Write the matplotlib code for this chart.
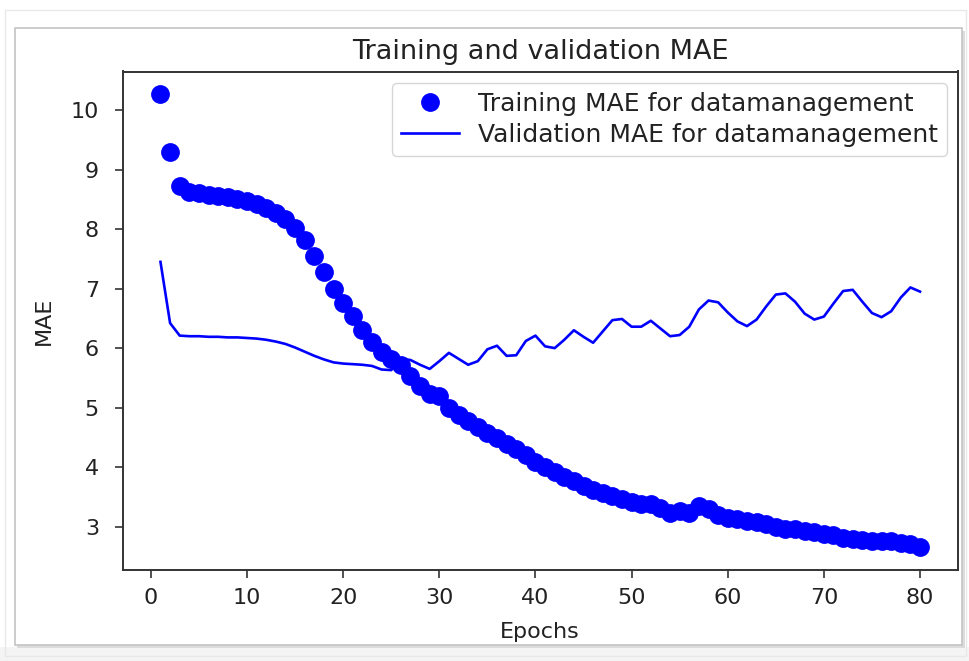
import matplotlib
matplotlib.use('Agg')
import matplotlib.pyplot as plt
from matplotlib.patches import Rectangle

epochs = list(range(1, 81))

train_mae = [10.27, 9.30, 8.72, 8.63, 8.60, 8.58, 8.56, 8.54, 8.51, 8.47,
             8.42, 8.36, 8.28, 8.17, 8.02, 7.82, 7.55, 7.28, 7.00, 6.76,
             6.54, 6.31, 6.11, 5.94, 5.82, 5.72, 5.53, 5.37, 5.22, 5.20,
             5.00, 4.88, 4.77, 4.68, 4.58, 4.49, 4.38, 4.30, 4.20, 4.08,
             4.00, 3.92, 3.83, 3.77, 3.68, 3.61, 3.57, 3.51, 3.47, 3.42,
             3.38, 3.38, 3.31, 3.23, 3.26, 3.22, 3.34, 3.30, 3.20, 3.14,
             3.12, 3.10, 3.08, 3.05, 2.99, 2.96, 2.95, 2.93, 2.91, 2.88,
             2.85, 2.81, 2.79, 2.77, 2.76, 2.76, 2.76, 2.73, 2.70, 2.65]

val_mae = [7.45, 6.42, 6.21, 6.20, 6.20, 6.19, 6.19, 6.18, 6.18, 6.17,
           6.16, 6.14, 6.11, 6.07, 6.01, 5.94, 5.87, 5.81, 5.76, 5.74,
           5.73, 5.72, 5.70, 5.64, 5.63, 5.82, 5.80, 5.72, 5.65, 5.78,
           5.92, 5.82, 5.72, 5.78, 5.98, 6.04, 5.87, 5.88, 6.12, 6.21,
           6.03, 6.00, 6.14, 6.30, 6.19, 6.09, 6.28, 6.47, 6.49, 6.36,
           6.36, 6.46, 6.33, 6.20, 6.22, 6.36, 6.65, 6.80, 6.77, 6.60,
           6.45, 6.37, 6.48, 6.70, 6.90, 6.92, 6.78, 6.58, 6.48, 6.53,
           6.75, 6.96, 6.98, 6.78, 6.59, 6.52, 6.62, 6.85, 7.02, 6.95]

W, H = 969, 661
fig = plt.figure(figsize=(W / 100, H / 100), dpi=100)

def px_rect(x0, y0, x1, y1, **kw):
    # rectangle given in pixel coords measured from the top-left corner
    return Rectangle((x0 / W, 1 - y1 / H), (x1 - x0) / W, (y1 - y0) / H,
                     transform=fig.transFigure, **kw)

# soft frame around the chart panel
fig.patches.append(px_rect(0, 0, W, H, facecolor='white', edgecolor='none', zorder=-5))
fig.patches.append(px_rect(0, 647, W, H, facecolor='#f4f4f4', edgecolor='none', zorder=-4))
fig.patches.append(px_rect(5, 10, 966, 656, facecolor='none', edgecolor='#e8e8e8', lw=1, zorder=-4))
fig.patches.append(px_rect(17, 31, 965, 648, facecolor='#dcdcdc', edgecolor='none', zorder=-3))
fig.patches.append(px_rect(15, 28, 962, 645, facecolor='white', edgecolor='#c4c4c4', lw=1.2, zorder=-2))

ax = fig.add_axes([122.5 / W, 1 - 570 / H, (958 - 122.5) / W, (570 - 71.5) / H])

ax.plot(epochs, train_mae, 'bo', markersize=12.5, label='Training MAE for datamanagement')
ax.plot(epochs, val_mae, 'b', linewidth=1.9, label='Validation MAE for datamanagement')

ax.set_title('Training and validation MAE', fontsize=19.5, color='#222222', pad=9)
ax.set_xlabel('Epochs', fontsize=16, color='#222222', labelpad=10)
ax.set_ylabel('MAE', fontsize=16, color='#222222', labelpad=12)
ax.tick_params(labelsize=16, length=6, width=1.2, colors='#333333', labelcolor='#222222')
ax.tick_params(axis='y', pad=11)
ax.tick_params(axis='x', pad=7)
ax.set_xticks([0, 10, 20, 30, 40, 50, 60, 70, 80])
ax.set_yticks([3, 4, 5, 6, 7, 8, 9, 10])
for s in ax.spines.values():
    s.set_linewidth(1.4)
    s.set_color('#333333')

ax.legend(loc='upper right', fontsize=18, handlelength=2.35, handletextpad=0.75,
          labelspacing=0.3, borderpad=0.35, borderaxespad=0.45,
          labelcolor='#222222')

fig.savefig('out.png', dpi=100)
